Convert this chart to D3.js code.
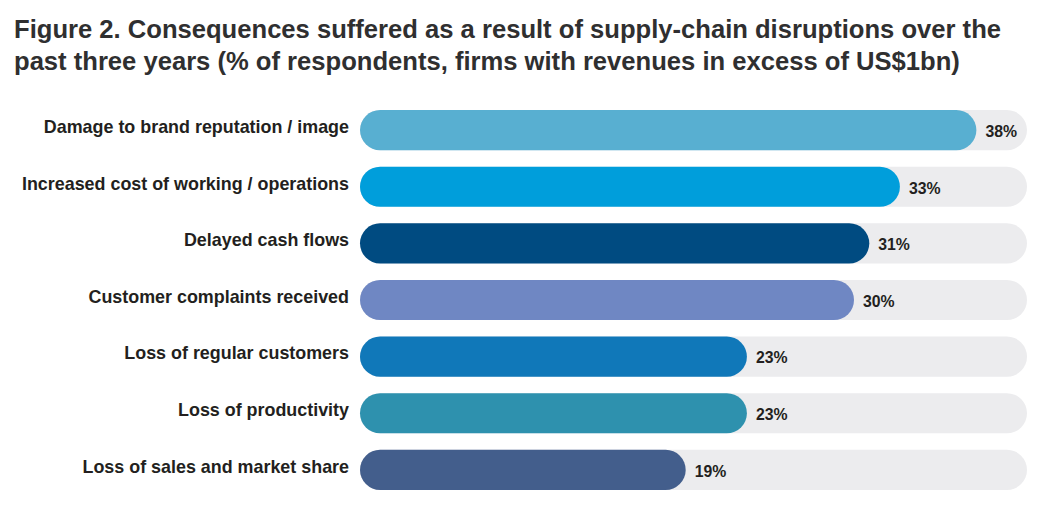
<!DOCTYPE html>
<html>
<head>
<meta charset="utf-8">
<title>Figure 2</title>
<script src="https://d3js.org/d3.v7.min.js"></script>
<style>
  body { margin: 0; background: #fff; }
  svg text { font-family: "Liberation Sans", Arial, sans-serif; font-weight: bold; }
</style>
</head>
<body>
<svg id="chart" width="1059" height="517"></svg>
<script>
// chart data
const categories = [
  "Damage to brand reputation / image",
  "Increased cost of working / operations",
  "Delayed cash flows",
  "Customer complaints received",
  "Loss of regular customers",
  "Loss of productivity",
  "Loss of sales and market share"
];
const values = [38, 33, 31, 30, 23, 23, 19];
const colors = ["#58afd1", "#009edb", "#004b81", "#6f87c3", "#1078b9", "#2e91ae", "#435e8c"];
const titleLines = [
  "Figure 2. Consequences suffered as a result of supply-chain disruptions over the",
  "past three years (% of respondents, firms with revenues in excess of US$1bn)"
];

const svg = d3.select("#chart");

// title
svg.append("g")
  .selectAll("text")
  .data(titleLines)
  .join("text")
  .attr("x", 14)
  .attr("y", (d, i) => 37.5 + i * 32)
  .attr("font-size", "25.6px")
  .attr("fill", "#2f2f30")
  .text(d => d);

// scales
const barLeft = 360;
const trackRight = 1027;
const x = d3.scaleLinear().domain([0, 40]).range([395, 1007]);
const y = d3.scaleBand()
  .domain(categories)
  .range([110, 490])
  .paddingInner(0.29)
  .paddingOuter(0);

const rows = svg.append("g")
  .selectAll("g")
  .data(categories)
  .join("g")
  .attr("transform", d => `translate(0,${y(d)})`);

const h = y.bandwidth();

// grey track
rows.append("rect")
  .attr("x", barLeft)
  .attr("width", trackRight - barLeft)
  .attr("height", h)
  .attr("rx", h / 2)
  .attr("fill", "#ececee");

// value bar
rows.append("rect")
  .attr("x", barLeft)
  .attr("width", (d, i) => x(values[i]) - barLeft)
  .attr("height", h)
  .attr("rx", h / 2)
  .attr("fill", (d, i) => colors[i]);

// category label
rows.append("text")
  .attr("x", 349)
  .attr("y", h / 2)
  .attr("dy", "0.16em")
  .attr("text-anchor", "end")
  .attr("font-size", "17.9px")
  .attr("fill", "#231f20")
  .text(d => d);

// value label
rows.append("text")
  .attr("x", (d, i) => x(values[i]) + 9)
  .attr("y", h / 2)
  .attr("dy", "0.43em")
  .attr("font-size", "15.8px")
  .attr("fill", "#231f20")
  .text((d, i) => values[i] + "%");
</script>
</body>
</html>
